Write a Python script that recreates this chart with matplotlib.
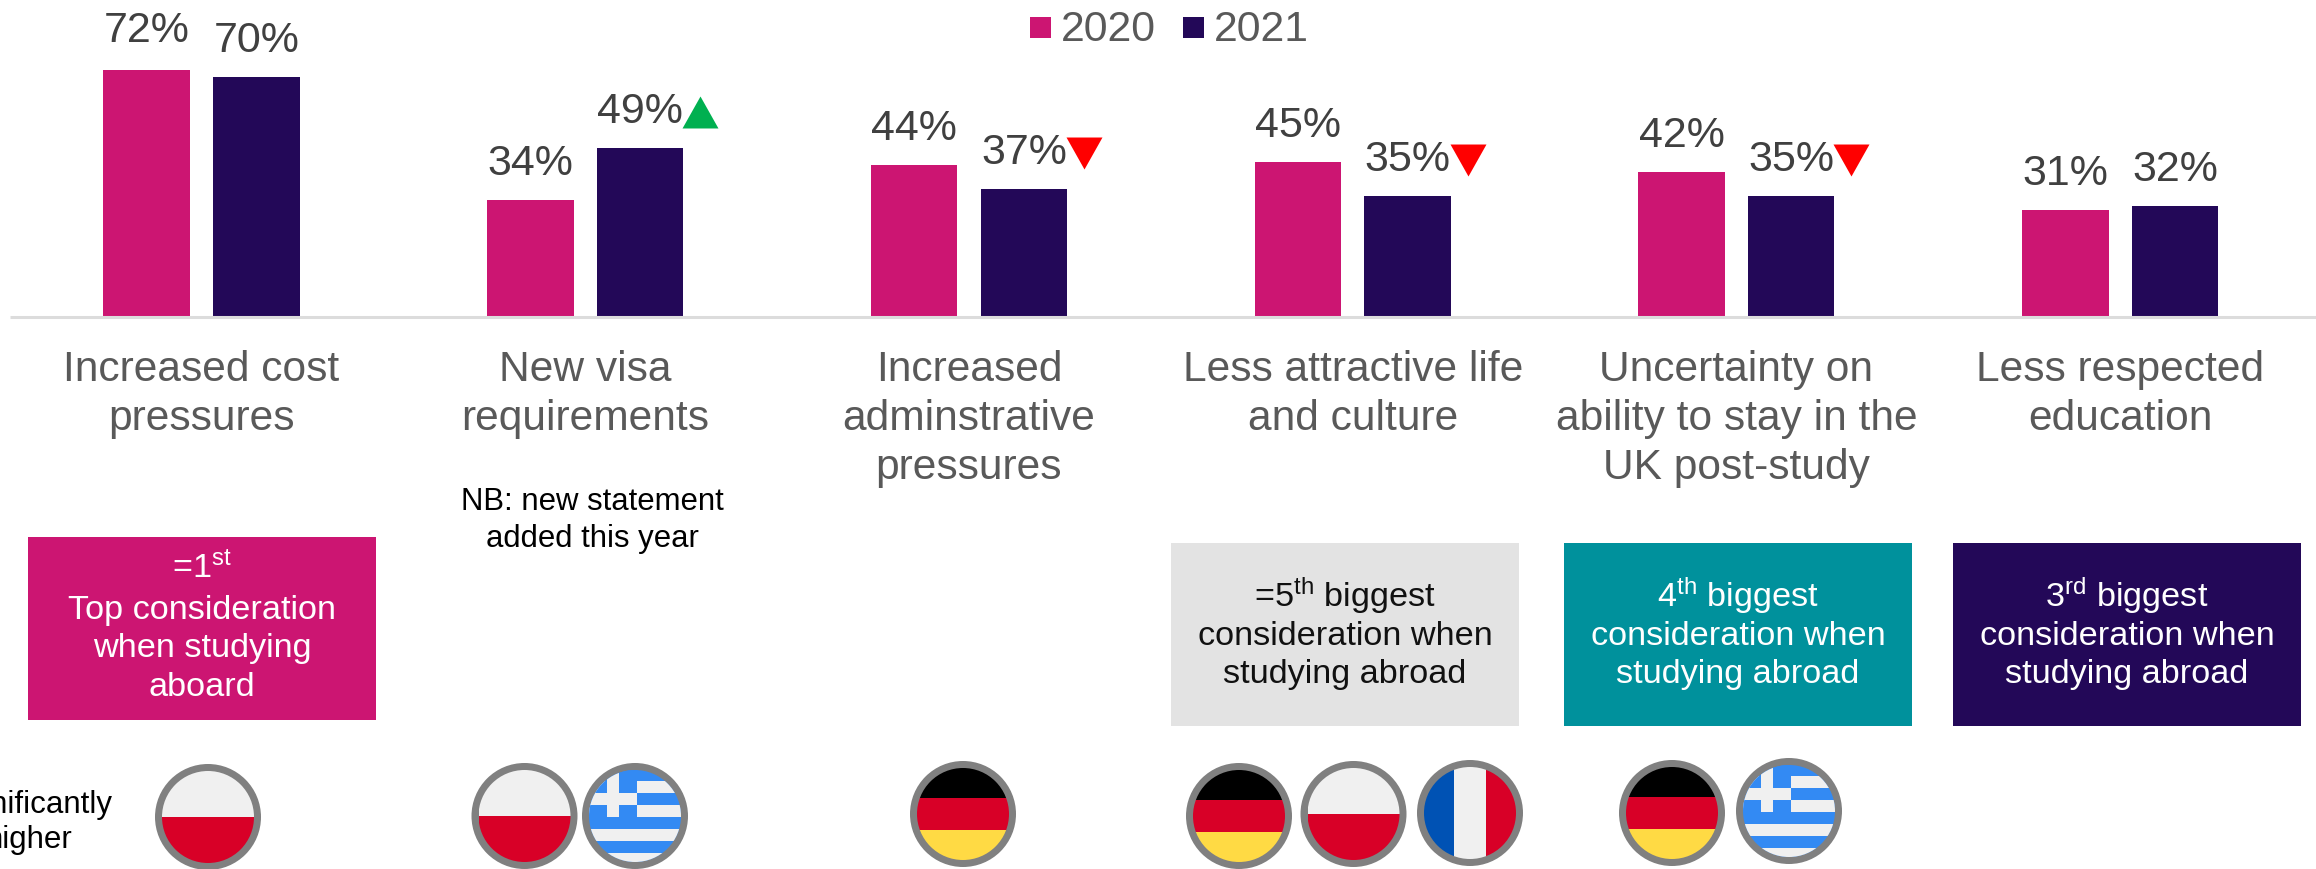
import matplotlib
matplotlib.use('Agg')
import matplotlib.pyplot as plt
from matplotlib.patches import Circle, Rectangle
import numpy as np

plt.rcParams['font.family'] = ['Liberation Sans', 'DejaVu Sans']
plt.rcParams['mathtext.fontset'] = 'custom'
plt.rcParams['mathtext.rm'] = 'Liberation Sans'
plt.rcParams['mathtext.default'] = 'regular'

# данные
years = ['2020', '2021']
values_2020 = [72, 34, 44, 45, 42, 31]
values_2021 = [70, 49, 37, 35, 35, 32]
changes_2021 = ['', 'up', 'down', 'down', 'down', '']
categories = [
    ['Increased cost', 'pressures'],
    ['New visa', 'requirements'],
    ['Increased', 'adminstrative', 'pressures'],
    ['Less attractive life', 'and culture'],
    ['Uncertainty on', 'ability to stay in the', 'UK post-study'],
    ['Less respected', 'education'],
]
note_lines = ['NB: new statement', 'added this year']
side_label = ['Significantly', 'higher']
flag_rows = [
    ('poland', 208, 817), ('poland', 524.5, 816), ('greece', 635, 816),
    ('germany', 963, 814), ('germany', 1239, 816), ('poland', 1353.5, 814),
    ('france', 1470, 813), ('germany', 1672, 813), ('greece', 1789, 811),
]

PINK = '#cc1572'
NAVY = '#230858'
TEAL = '#00919c'
LIGHT = '#e3e3e3'
TEXT = '#595959'
W, H = 2316, 869

fig = plt.figure(figsize=(W / 100, H / 100), dpi=100, facecolor='white')

# столбцы
left, base = 10, 315.5
step = 383.7
ax = fig.add_axes([left / W, 1 - base / H, 1 - left / W, base / H])
ax.set_xlim(-(201.6 - left) / step, (W - 201.6) / step)
ax.set_ylim(0, base / 3.41)
ax.axis('off')

x = np.arange(len(categories))
off = 54.85 / step
bw = 86.5 / step
ax.bar(x - off, values_2020, bw, color=PINK)
ax.bar(x + off, values_2021, bw, color=NAVY)

for xs, vals in ((x - off, values_2020), (x + off, values_2021)):
    for xi, v in zip(xs, vals):
        # подпись 72% стоит чуть выше остальных
        lift = 20.5 if v == 72 else 18
        ax.annotate(f'{v}%', (xi, v), xytext=(0, lift), textcoords='offset points',
                    ha='center', va='baseline', fontsize=31, color='#404040')

# стрелки значимых изменений
tri_up = [(-18, -16), (18, -16), (0, 16)]
tri_down = [(-18, 16), (18, 16), (0, -16)]
for xi, v, ch in zip(x + off, values_2021, changes_2021):
    if not ch:
        continue
    pos = (xi + 60 / step, v + 13 / 3.41 + 23 / 3.41)
    ax.plot(*pos, marker=tri_up if ch == 'up' else tri_down, ms=25.9, mew=0,
            color='#00b050' if ch == 'up' else '#ff0000', clip_on=False)

# оверлей в пикселях для подписей, плашек и флагов
ov = fig.add_axes([0, 0, 1, 1])
ov.set_xlim(0, W)
ov.set_ylim(H, 0)
ov.axis('off')
ov.patch.set_alpha(0)

ov.plot([left, W], [316.5, 316.5], color='#dcdcdc', lw=2.2, solid_capstyle='butt', zorder=1)

# легенда
for lx, tx, col, yr in ((1030, 1061, PINK, years[0]), (1183, 1214, NAVY, years[1])):
    ov.add_patch(Rectangle((lx, 17), 21, 21, color=col, lw=0))
    ov.text(tx, 41, yr, fontsize=30.8, color=TEXT, va='baseline', ha='left')

# подписи категорий
centers = 201.6 + x * step
for cx, lines in zip(centers, categories):
    for i, line in enumerate(lines):
        ov.text(cx, 381 + i * 49, line, fontsize=30.6, color=TEXT, ha='center', va='baseline')

for i, line in enumerate(note_lines):
    ov.text(centers[1] + 7, 510 + i * 37, line, fontsize=22.4, color='black', ha='center', va='baseline')

for i, line in enumerate(side_label):
    ov.text(29, 813 + i * 35, line, fontsize=22.5, color='black', ha='center', va='baseline')

# плашки
rank_lines = ['consideration when', 'studying abroad']
boxes = [
    (28, 537, 348, 183, PINK, 'white', [r'=1$^{st}$', 'Top consideration', 'when studying', 'aboard'], [578, 619, 657, 696]),
    (1171, 543, 348, 183, LIGHT, '#111111', [r'=5$^{th}$ biggest'] + rank_lines, [607, 645, 683]),
    (1564, 543, 348, 183, TEAL, 'white', [r'4$^{th}$ biggest'] + rank_lines, [607, 645, 683]),
    (1953, 543, 348, 183, NAVY, 'white', [r'3$^{rd}$ biggest'] + rank_lines, [607, 645, 683]),
]
for bx, by, bw_px, bh, col, tc, lines, baselines in boxes:
    ov.add_patch(Rectangle((bx, by), bw_px, bh, color=col, lw=0))
    for line, yb in zip(lines, baselines):
        ov.text(bx + bw_px / 2, yb, line, fontsize=24.7, color=tc, ha='center', va='baseline')


def stripe(x0, y0, w, h, col, clip):
    r = Rectangle((x0, y0), w, h, color=col, lw=0, zorder=4)
    ov.add_patch(r)
    r.set_clip_path(clip)


def draw_flag(kind, cx, cy):
    ov.add_patch(Circle((cx, cy), 53, color='#808080', lw=0, zorder=3))
    clip = Circle((cx, cy), 46, transform=ov.transData)
    r = 46
    if kind == 'poland':
        stripe(cx - r, cy - r, 2 * r, r, '#f0f0f0', clip)
        stripe(cx - r, cy, 2 * r, r, '#d80027', clip)
    elif kind == 'germany':
        stripe(cx - r, cy - r, 2 * r, r - 16, 'black', clip)
        stripe(cx - r, cy - 16, 2 * r, 32, '#d80027', clip)
        stripe(cx - r, cy + 16, 2 * r, r - 16, '#ffda44', clip)
    elif kind == 'france':
        stripe(cx - r, cy - r, r - 16, 2 * r, '#0052b4', clip)
        stripe(cx - 16, cy - r, 32, 2 * r, '#f0f0f0', clip)
        stripe(cx + 16, cy - r, r - 16, 2 * r, '#d80027', clip)
    else:
        stripe(cx - r, cy - r, 2 * r, 2 * r, '#338af3', clip)
        for y0 in (-35, -11, 13, 37):
            stripe(cx - r, cy + y0, 2 * r, 12, '#f0f0f0', clip)
        stripe(cx - r, cy - r, r + 2, r + 1, '#338af3', clip)
        stripe(cx - 28, cy - r, 12, r + 1, '#f0f0f0', clip)
        stripe(cx - r, cy - 23, r + 2, 12, '#f0f0f0', clip)


for kind, cx, cy in flag_rows:
    draw_flag(kind, cx, cy)

fig.savefig('out.png', dpi=100)
